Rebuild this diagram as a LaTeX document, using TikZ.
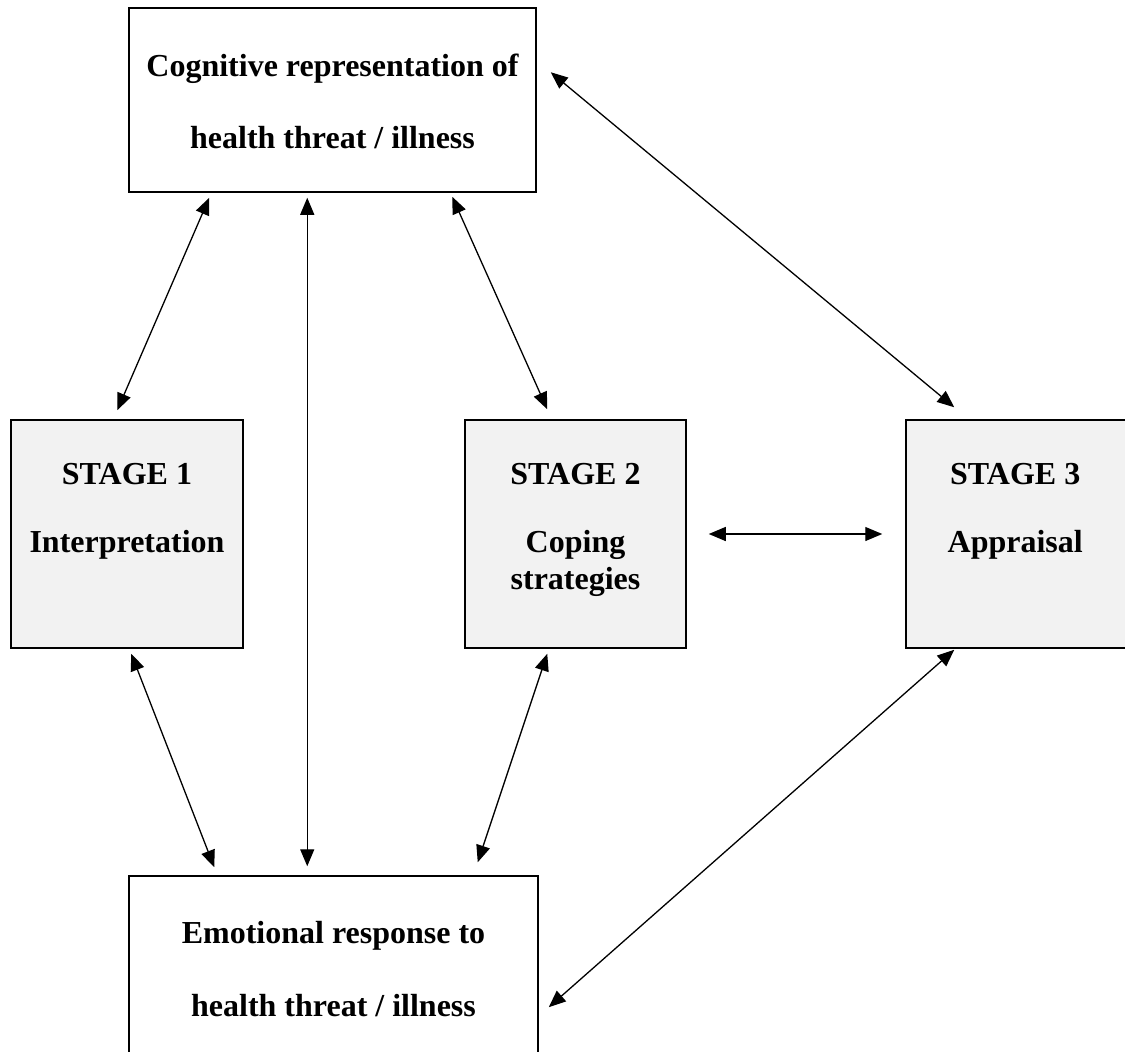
\documentclass[tikz,border=0pt]{standalone}
\usepackage{fontspec}
\setmainfont{Liberation Serif}
\usetikzlibrary{arrows.meta,calc}
\definecolor{stagefill}{HTML}{F2F2F2}
\begin{document}
\begin{tikzpicture}[x=1pt,y=-1pt,
  box/.style={draw=black,line width=1.5pt,inner sep=0pt,minimum width=#1},
  stagebox/.style={box=#1,fill=stagefill,minimum height=228pt},
  boxtext/.style={align=center,inner sep=0pt,anchor=north,
    font=\fontsize{32}{37}\selectfont\bfseries},
  link/.style={line width=1.3pt,{Triangle[length=17pt,width=14pt]}-{Triangle[length=17pt,width=14pt]}}
]
\useasboundingbox (0,0) rectangle (1125,1052);
% boxes
\node[box=407pt,minimum height=184pt] (top) at (332.5,100) {};
\node[boxtext] (toptext) at ($(top.north)+(0,47)$) {Cognitive representation of\\[35pt]health threat / illness};
\node[stagebox=232pt] (s1) at (127,534) {};
\node[boxtext] (s1text) at ($(s1.north)+(0,44)$) {STAGE 1\\[31pt]Interpretation};
\node[stagebox=221pt] (s2) at (575.5,534) {};
\node[boxtext] (s2text) at ($(s2.north)+(0,44)$) {STAGE 2\\[31pt]Coping\\strategies};
\node[stagebox=230pt] (s3) at (1021,534) {};
\node[boxtext] (s3text) at ($(s3.north west)+(110,44)$) {STAGE 3\\[31pt]Appraisal};
\node[box=409pt,minimum height=186pt] (bot) at (333.5,969) {};
\node[boxtext] (bottext) at ($(bot.north)+(0,46)$) {Emotional response to\\[36pt]health threat / illness};
% connectors
\draw[link] ($(top.south west)+(81,5)$) -- ($(s1.north west)+(107,-9)$);
\draw[link] ($(top.south west)+(179,5)$) -- ($(bot.north west)+(179,-9)$);
\draw[link] ($(top.south west)+(324,4)$) -- ($(s2.north west)+(83,-10)$);
\draw[link] ($(top.north east)+(14,65)$) -- ($(s3.north west)+(49,-12)$);
\draw[link] ($(s1.south west)+(121,5)$) -- ($(bot.north west)+(86,-8)$);
\draw[link] ($(s2.south west)+(83,5)$) -- ($(bot.north east)+(-61,-13)$);
\draw[link] ($(s3.south west)+(49,1)$) -- ($(bot.north east)+(10,132)$);
\draw[link] ($(s2.east)+(22,0)$) -- ($(s3.west)+(-23,0)$);
\end{tikzpicture}
\end{document}
